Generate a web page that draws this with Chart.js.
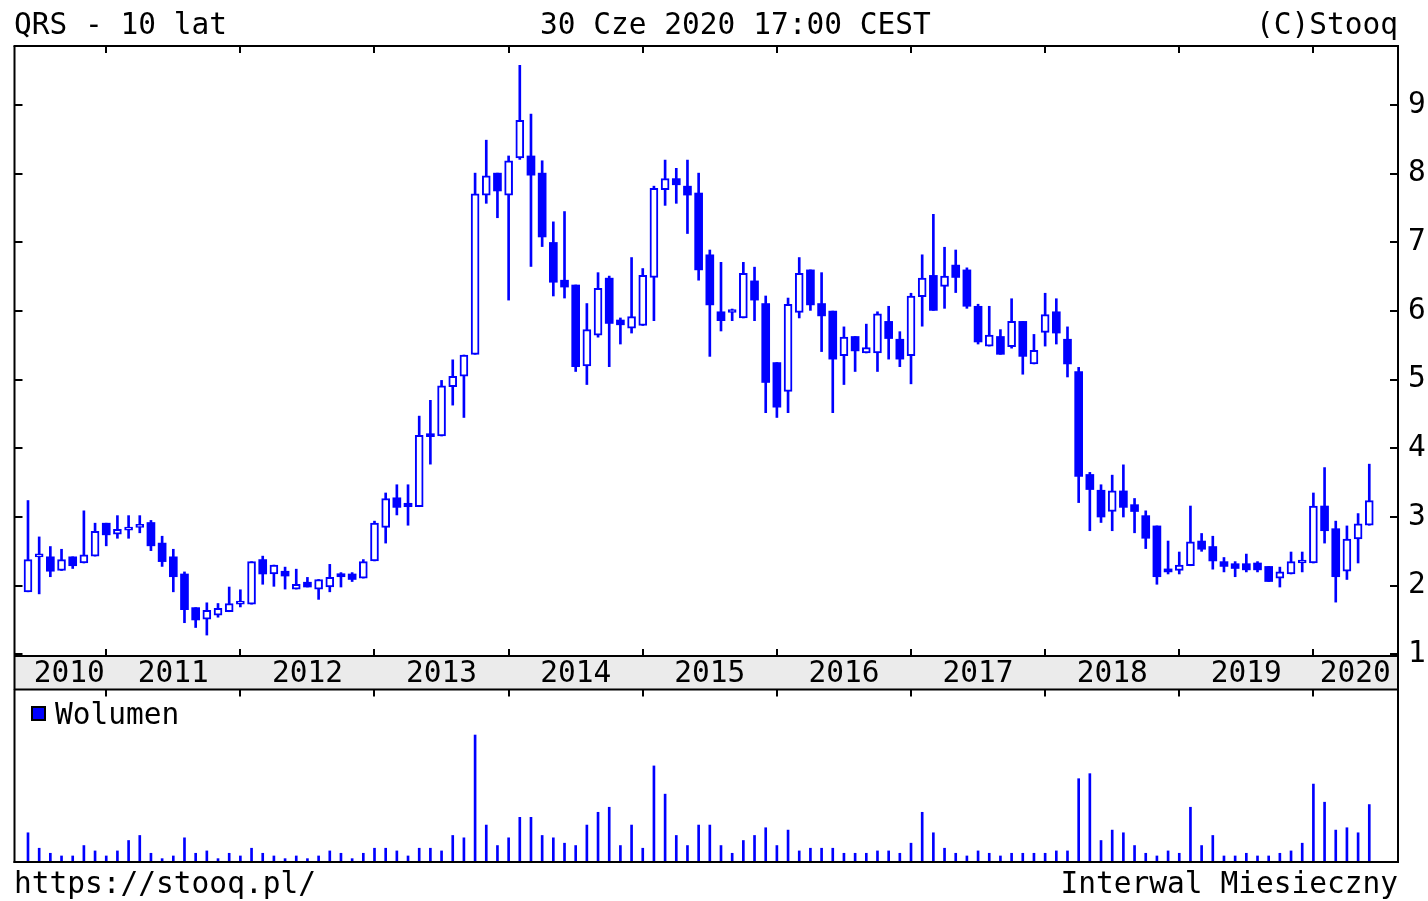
<!DOCTYPE html>
<html>
<head>
<meta charset="utf-8">
<script src="https://cdn.jsdelivr.net/npm/chart.js@4/dist/chart.umd.min.js"></script>
<style>
html, body { margin: 0; padding: 0; background: #fff; }
body { width: 1428px; height: 901px; position: relative; overflow: hidden; font-family: "DejaVu Sans Mono", monospace; }
canvas { position: absolute; left: 0; top: 0; }
.txt { position: absolute; font-size: 29.5px; line-height: 29px; white-space: pre; color: #000; }
.key { position: absolute; left: 31px; top: 706px; width: 11px; height: 11px; background: #0000ff; border: 2px solid #000; }
</style>
</head>
<body>
<canvas id="price" width="1428" height="901"></canvas>
<canvas id="volume" width="1428" height="901"></canvas>
<div class="txt" style="left:14px; top:10px;">QRS - 10 lat</div>
<div class="txt" style="left:540px; top:10px;">30 Cze 2020 17:00 CEST</div>
<div class="txt" style="right:30px; top:10px;">(C)Stooq</div>
<div class="key"></div>
<div class="txt" style="left:55px; top:700px;">Wolumen</div>
<div class="txt" style="left:14px; top:869px;">https://stooq.pl/</div>
<div class="txt" style="right:30px; top:869px;">Interwal Miesieczny</div>
<script>
// monthly candles, Jun 2010 .. Jun 2020
const months = [];
for (let y = 2010, m = 6; months.length < 121; m++) {
    if (m > 12) { m = 1; y++; }
    months.push(y + "-" + String(m).padStart(2, "0"));
}

const open = [1.91,2.42,2.42,2.22,2.42,2.33,2.43,2.91,2.75,2.81,
2.85,2.92,2.62,2.42,2.17,1.68,1.51,1.57,1.62,1.73,
1.73,2.38,2.17,2.21,1.95,2.05,1.95,1.98,2.16,2.17,
2.11,2.36,2.85,3.28,3.20,3.15,4.19,4.18,4.90,5.05,
5.37,7.69,8.01,7.69,8.23,8.26,8.01,7.00,6.45,6.38,
5.20,5.65,6.48,5.87,5.75,5.79,6.49,7.77,7.93,7.82,
7.72,6.82,5.99,5.98,5.90,6.44,6.11,5.25,4.83,5.98,
6.60,6.11,6.00,5.35,5.63,5.39,5.39,5.85,5.59,5.35,
6.21,6.52,6.36,6.67,6.60,6.07,5.49,5.63,5.48,5.85,
5.23,5.69,5.99,5.59,5.12,3.62,3.39,3.08,3.38,3.18,
3.02,2.87,2.24,2.22,2.29,2.65,2.57,2.35,2.32,2.32,
2.33,2.28,2.11,2.17,2.33,2.33,3.16,2.83,2.21,2.68,
2.88];

const high = [3.24,2.71,2.57,2.53,2.42,3.09,2.91,2.91,3.02,3.02,
3.02,2.95,2.72,2.53,2.20,1.68,1.75,1.74,1.98,1.94,
2.35,2.43,2.30,2.27,2.24,2.12,2.09,2.31,2.19,2.19,
2.38,2.94,3.35,3.47,3.47,4.47,4.70,4.99,5.29,5.36,
8.01,8.49,8.01,8.26,9.58,8.87,8.19,7.30,7.45,6.38,
6.11,6.56,6.51,5.90,6.78,6.62,7.82,8.20,8.08,8.20,
8.01,6.89,6.71,6.03,6.71,6.64,6.22,5.25,6.19,6.78,
6.60,6.56,6.00,5.77,5.63,5.81,5.99,6.07,5.70,6.26,
6.82,7.41,6.93,6.89,6.63,6.10,6.07,5.73,6.18,5.85,
5.66,6.26,6.18,5.77,5.18,3.65,3.47,3.61,3.76,3.27,
3.09,2.87,2.65,2.49,3.16,2.76,2.72,2.41,2.35,2.46,
2.35,2.28,2.27,2.49,2.49,3.35,3.72,2.94,2.87,3.05,
3.77];

const low = [1.91,1.88,2.13,2.22,2.25,2.33,2.43,2.58,2.69,2.69,
2.77,2.51,2.28,1.91,1.46,1.39,1.28,1.54,1.62,1.69,
1.73,2.02,1.99,1.95,1.95,1.98,1.80,1.91,1.98,2.06,
2.11,2.36,2.62,3.03,2.88,3.15,3.77,4.18,4.63,4.45,
5.37,7.57,7.36,6.16,8.21,6.65,6.94,6.22,6.19,5.12,
4.93,5.62,5.19,5.52,5.68,5.79,5.86,7.54,7.57,7.13,
6.45,5.34,5.71,5.86,5.90,5.86,4.52,4.45,4.52,5.90,
6.01,5.41,4.52,4.93,5.12,5.39,5.12,5.30,5.19,4.94,
5.78,6.01,6.04,6.27,6.04,5.52,5.49,5.37,5.46,5.08,
5.23,5.49,5.52,5.04,3.21,2.80,2.92,2.80,3.00,2.77,
2.54,2.02,2.17,2.17,2.29,2.50,2.24,2.20,2.13,2.20,
2.20,2.06,1.98,2.17,2.20,2.33,2.62,1.76,2.09,2.33,
2.88];

const close = [2.38,2.44,2.21,2.38,2.29,2.45,2.79,2.74,2.82,2.83,
2.87,2.58,2.35,2.13,1.65,1.50,1.64,1.67,1.74,1.75,
2.35,2.17,2.30,2.14,2.02,1.98,2.09,2.12,2.13,2.09,
2.35,2.91,3.27,3.14,3.15,4.19,4.17,4.91,5.05,5.36,
7.71,7.97,7.75,8.19,8.78,7.98,7.08,6.42,6.35,5.19,
5.73,6.33,5.82,5.80,5.92,6.52,7.79,7.93,7.84,7.69,
6.60,6.09,5.86,5.99,6.55,6.16,4.96,4.60,6.10,6.55,
6.09,5.93,5.30,5.62,5.42,5.47,5.96,5.60,5.30,6.22,
6.48,6.01,6.51,6.49,6.07,5.55,5.65,5.37,5.85,5.34,
5.43,5.95,5.68,5.23,3.59,3.40,3.00,3.38,3.14,3.08,
2.69,2.13,2.20,2.30,2.64,2.53,2.36,2.28,2.25,2.23,
2.23,2.06,2.20,2.35,2.35,3.16,2.80,2.13,2.68,2.90,
3.24];

const volume = [84,38,23,15,15,46,30,15,30,61,
76,23,7,15,69,23,30,7,23,15,
38,23,15,7,15,7,15,30,23,7,
23,38,38,30,15,38,38,30,76,69,
375,107,46,69,130,130,76,69,53,46,
107,145,160,46,107,38,283,199,76,46,
107,107,46,23,61,76,99,46,92,30,
38,38,38,23,23,23,30,30,23,53,
145,84,38,23,15,30,23,15,23,23,
23,23,30,30,245,260,61,92,84,46,
23,15,30,23,160,46,76,15,15,23,
15,15,23,30,53,229,175,92,99,84,
168];

const priceTicks = [1, 2, 3, 4, 5, 6, 7, 8, 9];

const X_MIN = -1.163, X_MAX = 122.48;
const Y_MIN = 0.975, Y_MAX = 9.862;
const VOL_MAX = 509;
const BAND = 33;
const ink = "#000000";
const blue = "#0000ff";

const yearStarts = months.map((m, i) => m.endsWith("-01") ? i : -1).filter(i => i >= 0);
const years = [...new Set(months.map(m => m.slice(0, 4)))];
const yearLabelAt = years.map((y, k) => {
    const a = k === 0 ? 0.4 : yearStarts[k - 1];
    const b = k < yearStarts.length ? yearStarts[k] : X_MAX;
    return (a + b) / 2;
});

Chart.defaults.font.family = "'DejaVu Sans Mono', monospace";
Chart.defaults.color = ink;

function line(ctx, x1, y1, x2, y2){
    ctx.beginPath();
    ctx.moveTo(x1, y1);
    ctx.lineTo(x2, y2);
    ctx.stroke();
}

const priceFrame = {
    id: "priceFrame",
    beforeDraw(chart){
        const {ctx, chartArea: a} = chart;
        ctx.save();
        ctx.fillStyle = "#ebebeb";
        ctx.fillRect(a.left, a.bottom, a.right - a.left, BAND);
        ctx.restore();
    },
    afterDraw(chart){
        const {ctx, chartArea: a, scales} = chart;
        const L = a.left - 0.5, R = a.right + 1, T = a.top, B = a.bottom, B2 = a.bottom + BAND + 0.5;
        ctx.save();
        ctx.strokeStyle = ink;
        ctx.lineWidth = 2;
        line(ctx, L - 1, T, R + 1, T);
        line(ctx, L, T, L, B2);
        line(ctx, R, T, R, B2);
        line(ctx, L, B, R, B);
        line(ctx, L, B2, R, B2);
        yearStarts.forEach(i => {
            const x = Math.round(scales.x.getPixelForValue(i));
            line(ctx, x, T, x, T + 7);
            line(ctx, x, B, x, B - 7);
            line(ctx, x, B2, x, B2 + 7);
        });
        priceTicks.forEach(v => {
            const y = Math.round(scales.y.getPixelForValue(v));
            line(ctx, L, y, L + 8, y);
            line(ctx, R, y, R - 8, y);
        });
        ctx.restore();
    }
};

const volumeFrame = {
    id: "volumeFrame",
    afterDraw(chart){
        const {ctx, chartArea: a} = chart;
        const L = a.left - 0.5, R = a.right + 1, T = a.top - 1, B = a.bottom + 1;
        ctx.save();
        ctx.strokeStyle = ink;
        ctx.lineWidth = 2;
        line(ctx, L, T, L, B + 1);
        line(ctx, R, T, R, B + 1);
        line(ctx, L - 1, B, R + 1, B);
        ctx.restore();
    }
};

const isUp = months.map((m, i) => close[i] >= open[i]);

new Chart(document.getElementById("price"), {
    type: "bar",
    data: {
        datasets: [
            {
                label: "body",
                data: months.map((m, i) => ({x: i, y: [open[i], close[i]]})),
                backgroundColor: isUp.map(u => u ? "#ffffff" : blue),
                borderColor: blue,
                borderWidth: isUp.map(u => u ? 2 : 0),
                borderSkipped: false,
                barThickness: 8,
                minBarLength: 3,
                grouped: false,
                order: 0
            },
            {
                label: "wick",
                data: months.map((m, i) => ({x: i, y: [low[i], high[i]]})),
                backgroundColor: blue,
                borderWidth: 0,
                barThickness: 2,
                grouped: false,
                order: 1
            }
        ]
    },
    options: {
        responsive: false,
        animation: false,
        devicePixelRatio: 1,
        layout: { padding: { left: 15, top: 46, right: 0, bottom: 212 } },
        plugins: {
            legend: { display: false },
            tooltip: { enabled: false }
        },
        scales: {
            x: {
                type: "linear",
                min: X_MIN,
                max: X_MAX,
                offset: false,
                grid: { display: false, drawTicks: false },
                border: { display: false },
                afterBuildTicks: s => { s.ticks = yearLabelAt.map(v => ({value: v})); },
                afterFit: s => { s.height = BAND; },
                ticks: {
                    autoSkip: false,
                    maxRotation: 0,
                    padding: 3.5,
                    color: ink,
                    font: { size: 29.5, lineHeight: 1 },
                    callback: (v, i) => years[i]
                }
            },
            y: {
                position: "right",
                min: Y_MIN,
                max: Y_MAX,
                grid: { display: false, drawTicks: false },
                border: { display: false },
                afterBuildTicks: s => { s.ticks = priceTicks.map(v => ({value: v})); },
                afterFit: s => { s.width = 31; },
                ticks: {
                    padding: 11,
                    color: ink,
                    font: { size: 29.5 },
                    callback: v => String(v)
                }
            }
        }
    },
    plugins: [priceFrame]
});

new Chart(document.getElementById("volume"), {
    type: "bar",
    data: {
        datasets: [{
            label: "Wolumen",
            data: months.map((m, i) => ({x: i, y: volume[i]})),
            backgroundColor: blue,
            borderWidth: 0,
            barThickness: 2
        }]
    },
    options: {
        responsive: false,
        animation: false,
        devicePixelRatio: 1,
        layout: { padding: { left: 15, top: 690, right: 31, bottom: 40 } },
        plugins: {
            legend: { display: false },
            tooltip: { enabled: false }
        },
        scales: {
            x: { type: "linear", display: false, min: X_MIN, max: X_MAX, offset: false },
            y: { display: false, min: 0, max: VOL_MAX }
        }
    },
    plugins: [volumeFrame]
});
</script>
</body>
</html>
